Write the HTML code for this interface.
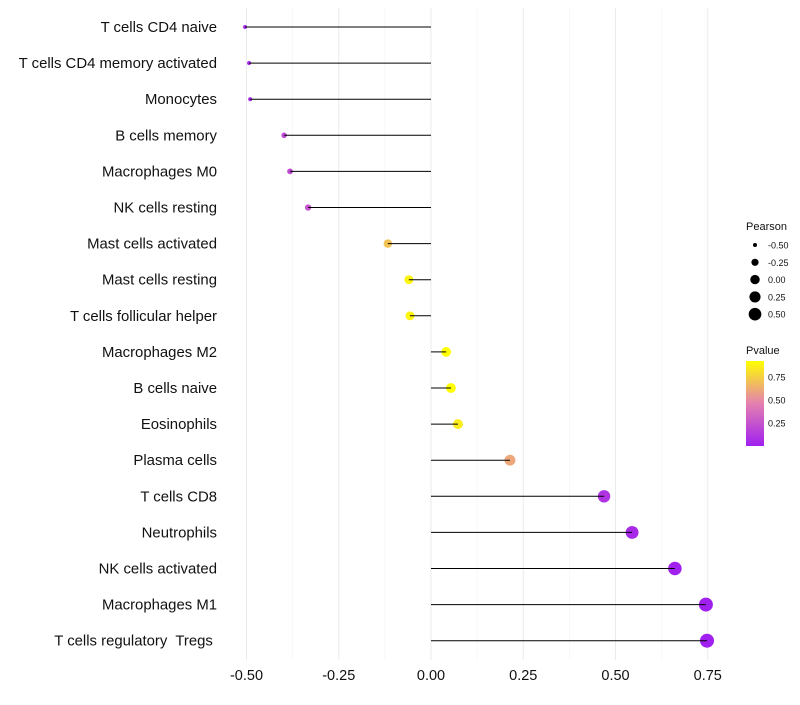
<!DOCTYPE html>
<html><head><meta charset="utf-8"><style>
body{margin:0;background:#fff;font-family:"Liberation Sans",sans-serif}
text{white-space:pre}
</style></head><body>
<svg id="chart" width="800" height="700" xmlns="http://www.w3.org/2000/svg" font-family="Liberation Sans, sans-serif"></svg>
<script>
const categories=["T cells CD4 naive","T cells CD4 memory activated","Monocytes","B cells memory","Macrophages M0","NK cells resting","Mast cells activated","Mast cells resting","T cells follicular helper","Macrophages M2","B cells naive","Eosinophils","Plasma cells","T cells CD8","Neutrophils","NK cells activated","Macrophages M1","T cells regulatory  Tregs "];
const pearson=[-0.504,-0.493,-0.49,-0.398,-0.382,-0.333,-0.117,-0.06,-0.057,0.041,0.054,0.073,0.214,0.469,0.545,0.661,0.745,0.748];
const pvalue=[0.05,0.05,0.06,0.2,0.2,0.25,0.7,0.88,0.88,0.92,0.92,0.85,0.6,0.1,0.05,0.01,0.001,0.001];
const xTicks=[-0.5,-0.25,0,0.25,0.5,0.75];
const xTickLabels=["-0.50","-0.25","0.00","0.25","0.50","0.75"];
const sizeLegend=[-0.5,-0.25,0,0.25,0.5];
const sizeLegendLabels=["-0.50","-0.25","0.00","0.25","0.50"];
const colorTicks=[0.25,0.5,0.75];

const NS="http://www.w3.org/2000/svg";
const svg=document.getElementById('chart');
const x=v=>431+v*369;
const y=i=>27+i*36.1;
const r=v=>Math.sqrt(Math.max(1,22+36*v));
function lerp(a,b,t){return a.map((c,i)=>Math.round(c+(b[i]-c)*t));}
function col(p){const t=Math.min(1,Math.max(0,p/0.92));
 const lo=[160,32,240],mid=[228,128,176],hi=[255,255,0];
 const c=t<0.5?lerp(lo,mid,t*2):lerp(mid,hi,(t-0.5)*2);return `rgb(${c.join(',')})`;}
function el(t,a){const e=document.createElementNS(NS,t);for(const k in a)e.setAttribute(k,a[k]);svg.appendChild(e);return e;}

for(let v=-0.5;v<=0.751;v+=0.125){
 const major=Math.abs((v*4)%1)<1e-6;
 const g=el('line',{x1:x(v),x2:x(v),y1:8,y2:660,stroke:major?'#ebebeb':'#f3f3f3','stroke-width':major?1:0.6});
 
 
}
xTicks.forEach((v,i)=>{
 const t=el('text',{x:x(v),y:680,'text-anchor':'middle','font-size':14.5,fill:'#111'});t.textContent=xTickLabels[i];
 
 
});
categories.forEach((c,i)=>{
 const t=el('text',{x:217,y:y(i)+5,'text-anchor':'end','font-size':14.9,fill:'#111'});t.textContent=c;
 
 
 const p=el('circle',{cx:x(pearson[i]),cy:y(i),r:r(pearson[i]),fill:col(pvalue[i])});
 
 
 const l=el('line',{x1:x(0),x2:x(pearson[i]),y1:y(i),y2:y(i),stroke:'#000','stroke-width':1});
 
 
});
let t=el('text',{x:746,y:230,'font-size':11,fill:'#111'});t.textContent='Pearson';


sizeLegend.forEach((v,i)=>{
 const cy=245+i*17.3;
 const c=el('circle',{cx:755,cy:cy,r:r(v),fill:'#000'});
 
 
 const tt=el('text',{x:768,y:cy+3.5,'font-size':9,fill:'#111'});tt.textContent=sizeLegendLabels[i];
 
 
});
t=el('text',{x:746,y:354,'font-size':11,fill:'#111'});t.textContent='Pvalue';


const defs=el('defs',{});
const lg=document.createElementNS(NS,'linearGradient');lg.setAttribute('id','pg');lg.setAttribute('x1',0);lg.setAttribute('y1',1);lg.setAttribute('x2',0);lg.setAttribute('y2',0);defs.appendChild(lg);
for(let k=0;k<=10;k++){const s=document.createElementNS(NS,'stop');s.setAttribute('offset',k/10);s.setAttribute('stop-color',col(0.92*k/10));lg.appendChild(s);}
const bar=el('rect',{x:746,y:361,width:18,height:85,fill:'url(#pg)'});


colorTicks.forEach(v=>{
 const cy=446-v/0.25*23;
 const tt=el('text',{x:768,y:cy+3.5,'font-size':9,fill:'#111'});tt.textContent=v.toFixed(2);
 
 
});
</script>
</body></html>
